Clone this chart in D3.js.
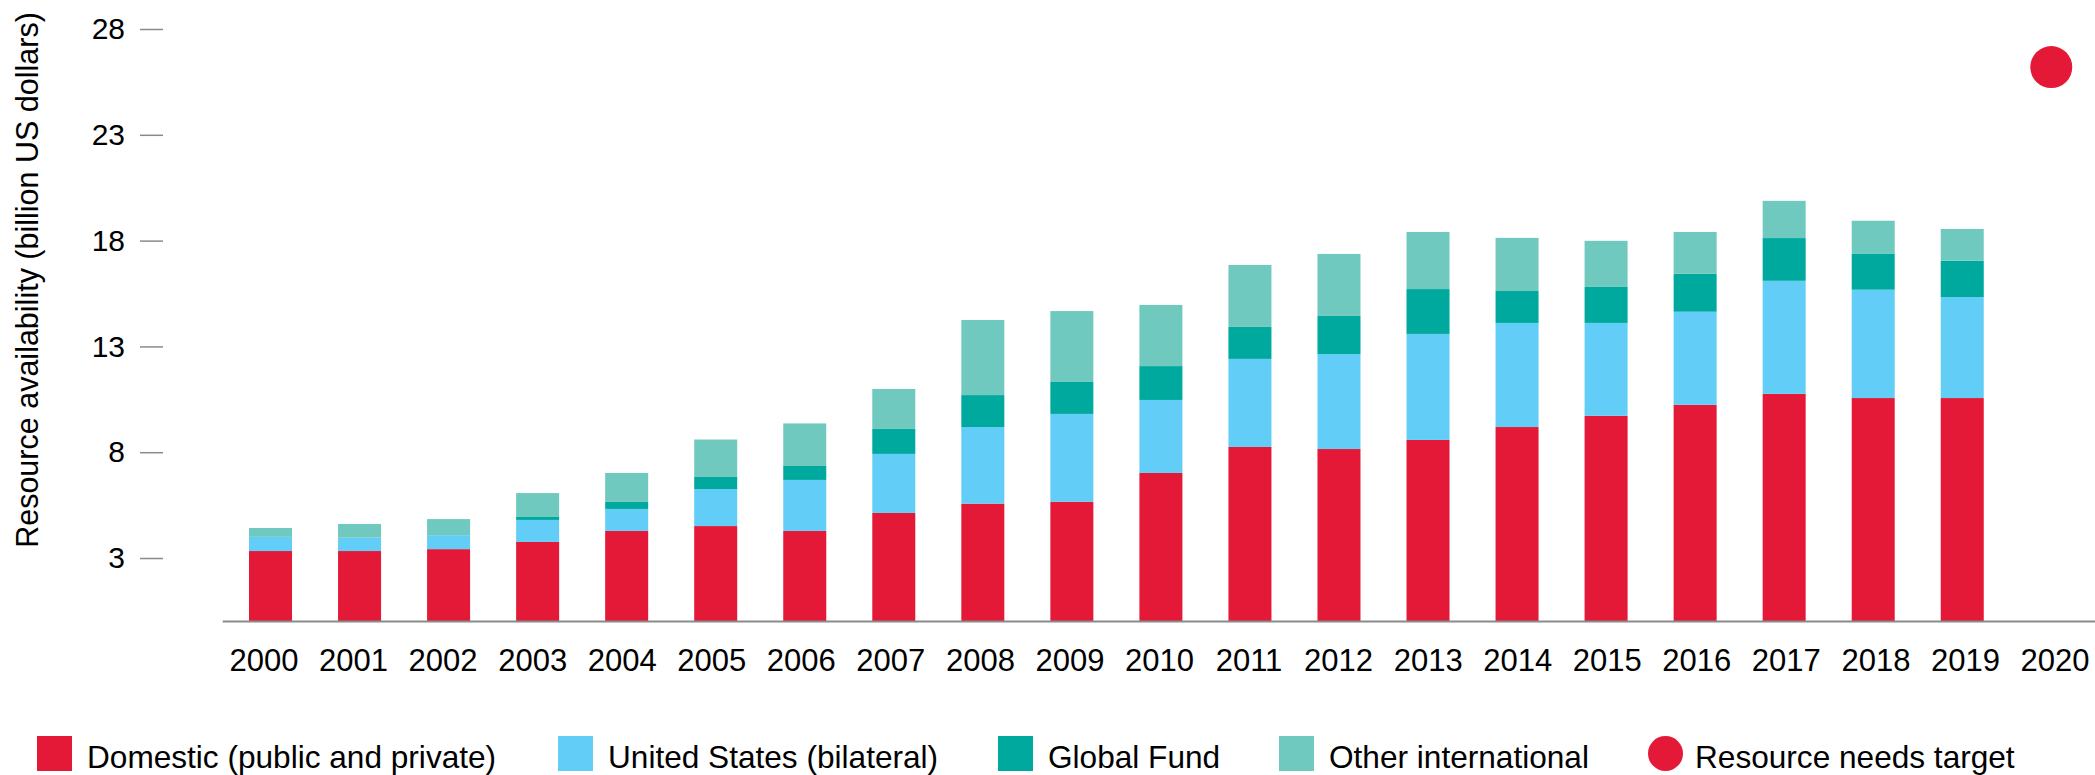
<!DOCTYPE html>
<html>
<head>
<meta charset="utf-8">
<script src="https://cdn.jsdelivr.net/npm/d3@7"></script>
<style>
  body { margin: 0; background: #fff; }
  svg text { font-family: "Liberation Sans", Arial, sans-serif; fill: #000; }
</style>
</head>
<body>
<svg id="chart" width="2095" height="775"></svg>
<script>
// resource availability by source, billion US dollars
var years = ['2000','2001','2002','2003','2004','2005','2006','2007','2008','2009',
             '2010','2011','2012','2013','2014','2015','2016','2017','2018','2019','2020'];

var domestic = [3.33, 3.33, 3.42, 3.76, 4.28, 4.51, 4.28, 5.13, 5.57, 5.66,
                7.02, 8.25, 8.15, 8.58, 9.19, 9.72, 10.24, 10.76, 10.56, 10.56, 0];
var unitedStates = [0.67, 0.63, 0.66, 1.04, 1.04, 1.75, 2.41, 2.79, 3.62, 4.15,
                    3.45, 4.16, 4.49, 5.01, 4.92, 4.39, 4.40, 5.34, 5.12, 4.77, 0];
var globalFund = [0, 0, 0, 0.14, 0.33, 0.57, 0.66, 1.18, 1.51, 1.51,
                  1.60, 1.51, 1.80, 2.12, 1.51, 1.70, 1.79, 2.02, 1.69, 1.72, 0];
var otherIntl = [0.42, 0.65, 0.76, 1.13, 1.37, 1.77, 2.01, 1.89, 3.55, 3.35,
                 2.89, 2.93, 2.93, 2.70, 2.51, 2.18, 1.98, 1.76, 1.57, 1.50, 0];

var targetYear = '2020';
var targetValue = 26.2;

var yTicks = [3, 8, 13, 18, 23, 28];

var seriesNames = ['Domestic (public and private)', 'United States (bilateral)', 'Global Fund', 'Other international'];
var seriesColors = ['#e31937', '#62cdf7', '#00a99d', '#70c9be'];
var targetName = 'Resource needs target';

var svg = d3.select('#chart');

var x = d3.scaleBand()
  .domain(years)
  .range([226, 2095.8])
  .paddingInner(0.517)
  .paddingOuter(0.2585);

// labels sit a touch off the bar centres in the original
var xLabel = d3.scalePoint()
  .domain(years)
  .range([264, 2055]);

var y = d3.scaleLinear()
  .domain([0, 28])
  .range([621.5, 29]);

// build the stack table
var table = years.map(function(yr, i){
  return {year: yr, s0: domestic[i], s1: unitedStates[i], s2: globalFund[i], s3: otherIntl[i]};
});

var stack = d3.stack().keys(['s0','s1','s2','s3']);
var layers = stack(table);

var g = svg.append('g');

g.selectAll('g.layer')
  .data(layers)
  .enter().append('g')
    .attr('class', 'layer')
    .attr('fill', function(d, i){ return seriesColors[i]; })
  .selectAll('rect')
  .data(function(d){ return d; })
  .enter().append('rect')
    .attr('x', function(d){ return x(d.data.year); })
    .attr('width', x.bandwidth())
    .attr('y', function(d){ return y(d[1]); })
    .attr('height', function(d){ return Math.max(0, y(d[0]) - y(d[1])); });

// baseline
svg.append('line')
  .attr('x1', 222.7)
  .attr('x2', 2095)
  .attr('y1', y(0))
  .attr('y2', y(0))
  .attr('stroke', '#8a8a8a')
  .attr('stroke-width', 2);

// target dot
svg.append('circle')
  .attr('cx', x(targetYear) + x.bandwidth() / 2)
  .attr('cy', y(targetValue))
  .attr('r', 21)
  .attr('fill', '#e31937');

// y axis
var yAxis = d3.axisLeft(y)
  .tickValues(yTicks)
  .tickSize(23)
  .tickPadding(15);

var ya = svg.append('g')
  .attr('transform', 'translate(163,0)')
  .call(yAxis);
ya.select('.domain').remove();
ya.selectAll('.tick line').attr('stroke', '#8a8a8a').attr('stroke-width', 1.5);
ya.selectAll('.tick text')
  .style('font-size', '30px')
  .style('font-family', '"Liberation Sans", Arial, sans-serif')
  .attr('fill', '#000');

// x labels
svg.append('g')
  .selectAll('text')
  .data(years)
  .enter().append('text')
    .attr('x', function(d){ return xLabel(d); })
    .attr('y', 670.7)
    .attr('text-anchor', 'middle')
    .style('font-size', '31px')
    .text(function(d){ return d; });

// y title
svg.append('text')
  .attr('transform', 'translate(38,280) rotate(-90)')
  .attr('text-anchor', 'middle')
  .style('font-size', '30.5px')
  .text('Resource availability (billion US dollars)');

// legend
var legendX = [37, 558, 998, 1279, 1648];
var legendItems = seriesNames.map(function(n, i){ return {name: n, color: seriesColors[i], dot: false}; });
legendItems.push({name: targetName, color: '#e31937', dot: true});

var leg = svg.append('g')
  .selectAll('g')
  .data(legendItems)
  .enter().append('g')
    .attr('transform', function(d, i){ return 'translate(' + legendX[i] + ',736)'; });

leg.each(function(d){
  var sel = d3.select(this);
  if(d.dot){
    sel.append('circle').attr('cx', 17.5).attr('cy', 17.5).attr('r', 17.5).attr('fill', d.color);
  } else {
    sel.append('rect').attr('width', 35).attr('height', 35).attr('fill', d.color);
  }
  sel.append('text')
    .attr('x', d.dot ? 47 : 50)
    .attr('y', 31.7)
    .style('font-size', '31.6px')
    .text(d.name);
});
</script>
</body>
</html>
